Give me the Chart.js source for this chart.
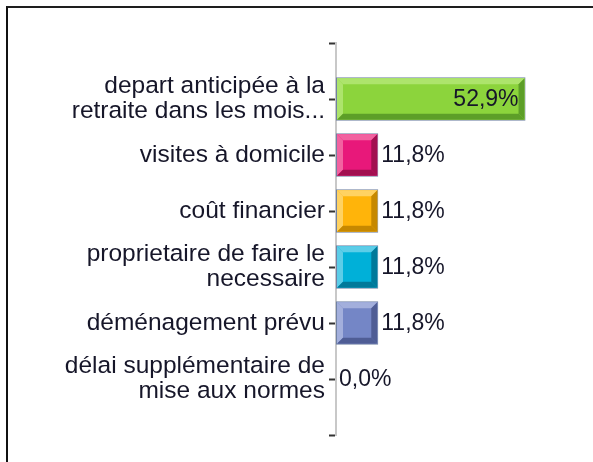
<!DOCTYPE html>
<html>
<head>
<meta charset="utf-8">
<script src="https://cdn.jsdelivr.net/npm/chart.js@4"></script>
<style>
  html, body { margin: 0; padding: 0; background: #fff; }
  #frame {
    position: absolute; left: 6px; top: 6px; width: 600px; height: 470px;
    border-top: 2px solid #1e1e1e; border-left: 2px solid #111;
  }
  #wrap { position: absolute; left: 0; top: 0; width: 593px; height: 462px; }
</style>
</head>
<body>
<div id="frame"></div>
<div id="wrap"><canvas id="chart"></canvas></div>
<script>
// categories (blank slots at both ends keep the extra axis ticks)
const categories = [
    '',
    ['depart anticipée à la', 'retraite dans les mois...'],
    'visites à domicile',
    'coût financier',
    ['proprietaire de faire le', 'necessaire'],
    'déménagement prévu',
    ['délai supplémentaire de', 'mise aux normes'],
    ''
];
const percentages = [null, 52.9, 11.8, 11.8, 11.8, 11.8, 0.0, null];

const faceColors  = [null, '#8cd43c', '#e8187a', '#ffb40a', '#00b0d8', '#7486c6', '#999', null];
const lightColors = [null, '#ade46c', '#f262a0', '#ffd262', '#5ccde8', '#a3afdc', '#bbb', null];
const darkColors  = [null, '#5d9e28', '#a20f50', '#c68800', '#00799a', '#4f5d95', '#777', null];

const FONT = '"Liberation Sans", Arial, sans-serif';

const fmt = v => v.toFixed(1).replace('.', ',') + '%';

// draws the beveled 3D look on every bar
const bevelPlugin = {
    id: 'bevel',
    afterDatasetsDraw(chart) {
        const ctx = chart.ctx;
        const meta = chart.getDatasetMeta(0);
        meta.data.forEach((bar, i) => {
            if (percentages[i] == null || percentages[i] <= 0) return;
            const x0 = Math.min(bar.base, bar.x) + 1;
            const x1 = Math.max(bar.base, bar.x) - 1;
            const y0 = bar.y - bar.height / 2 + 1;
            const y1 = bar.y + bar.height / 2 - 1;
            const b = Math.min(6, (x1 - x0) / 2, (y1 - y0) / 2);
            const poly = (pts, col) => {
                ctx.beginPath();
                ctx.moveTo(pts[0][0], pts[0][1]);
                pts.slice(1).forEach(p => ctx.lineTo(p[0], p[1]));
                ctx.closePath();
                ctx.fillStyle = col;
                ctx.fill();
            };
            ctx.save();
            poly([[x0, y0], [x1, y0], [x1 - b, y0 + b], [x0 + b, y0 + b]], lightColors[i]);
            poly([[x0, y0], [x0 + b, y0 + b], [x0 + b, y1 - b], [x0, y1]], lightColors[i]);
            poly([[x0, y1], [x0 + b, y1 - b], [x1 - b, y1 - b], [x1, y1]], darkColors[i]);
            poly([[x1, y0], [x1, y1], [x1 - b, y1 - b], [x1 - b, y0 + b]], darkColors[i]);
            ctx.restore();
        });
    }
};

// value labels: inside the long bar, right of the short ones
const valuePlugin = {
    id: 'values',
    afterDraw(chart) {
        const ctx = chart.ctx;
        const meta = chart.getDatasetMeta(0);
        ctx.save();
        ctx.font = '23px ' + FONT;
        ctx.fillStyle = '#161629';
        ctx.textBaseline = 'middle';
        meta.data.forEach((bar, i) => {
            const v = percentages[i];
            if (v == null) return;
            const txt = fmt(v);
            const w = ctx.measureText(txt).width;
            const len = bar.x - bar.base;
            if (len > w + 20) {
                ctx.textAlign = 'right';
                ctx.fillText(txt, bar.x - 7, bar.y + 1);
            } else {
                ctx.textAlign = 'left';
                ctx.fillText(txt, bar.x + 3, bar.y + 1);
            }
        });
        ctx.restore();
    }
};

new Chart(document.getElementById('chart'), {
    type: 'bar',
    data: {
        labels: categories,
        datasets: [{
            data: percentages,
            backgroundColor: faceColors,
            borderColor: '#7081a3',
            borderWidth: 1,
            borderSkipped: false,
            barPercentage: 0.78,
            categoryPercentage: 1
        }]
    },
    options: {
        indexAxis: 'y',
        responsive: true,
        maintainAspectRatio: false,
        animation: false,
        layout: { padding: { top: 43, bottom: 27, right: 42, left: 0 } },
        scales: {
            x: { display: false, min: 0, max: 60 },
            y: {
                offset: false,
                afterFit: s => { s.width = 336; },
                border: { display: true, color: '#c8c8c8', width: 2 },
                grid: {
                    offset: false,
                    drawOnChartArea: false,
                    drawTicks: true,
                    tickLength: 7,
                    tickWidth: 2,
                    tickColor: '#333'
                },
                ticks: {
                    autoSkip: false,
                    padding: 4,
                    color: '#161629',
                    font: { family: FONT, size: 24.5, lineHeight: 1.03 }
                }
            }
        },
        plugins: {
            legend: { display: false },
            tooltip: { enabled: false }
        }
    },
    plugins: [bevelPlugin, valuePlugin]
});
</script>
</body>
</html>
